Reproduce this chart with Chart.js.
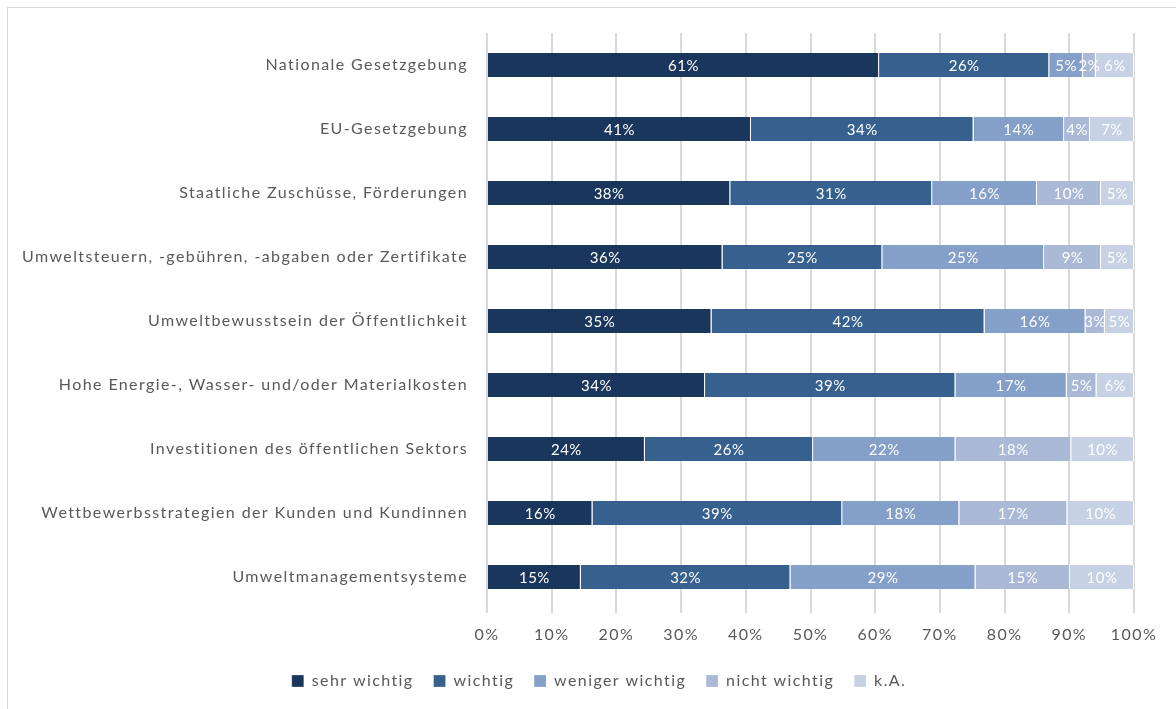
<!DOCTYPE html>
<html>
<head>
<meta charset="utf-8">
<script src="https://cdn.jsdelivr.net/npm/chart.js@4/dist/chart.umd.min.js"></script>
<style>
  html, body { margin: 0; padding: 0; background: #fff; }
  #wrap { position: absolute; left: 0; top: 0; width: 1176px; height: 709px; }
  #frame { position: absolute; left: 7px; top: 7px; width: 1180px; height: 720px; border: 1px solid #d9d9d9; box-sizing: border-box; }
</style>
</head>
<body>
<div id="wrap">
  <div id="frame"></div>
  <canvas id="bildChart" width="1176" height="709"></canvas>
</div>
<script>
// Kategorien (Einflussfaktoren)
var kategorien = [
  "Nationale Gesetzgebung",
  "EU-Gesetzgebung",
  "Staatliche Zuschüsse, Förderungen",
  "Umweltsteuern, -gebühren, -abgaben oder Zertifikate",
  "Umweltbewusstsein der Öffentlichkeit",
  "Hohe Energie-, Wasser- und/oder Materialkosten",
  "Investitionen des öffentlichen Sektors",
  "Wettbewerbsstrategien der Kunden und Kundinnen",
  "Umweltmanagementsysteme"
];

// Anteile in Prozent je Antwort
var sehrWichtig    = [60.6, 40.8, 37.6, 36.4, 34.7, 33.7, 24.4, 16.3, 14.5];
var wichtig        = [26.3, 34.4, 31.2, 24.7, 42.2, 38.7, 26.0, 38.6, 32.4];
var wenigerWichtig = [5.2, 14.0, 16.2, 25.0, 15.6, 17.2, 22.0, 18.1, 28.6];
var nichtWichtig   = [2.0, 4.0, 9.9, 8.8, 3.0, 4.6, 17.9, 16.7, 14.6];
var keineAngabe    = [5.9, 6.8, 5.1, 5.1, 4.5, 5.8, 9.7, 10.3, 9.9];

var serienNamen = ["sehr wichtig", "wichtig", "weniger wichtig", "nicht wichtig", "k.A."];
var serienFarben = ['#1a365d', '#36618f', '#84a0c9', '#a9b9d6', '#c6d1e4'];
var xTicks = [0, 10, 20, 30, 40, 50, 60, 70, 80, 90, 100];

var schrift = "Lato, 'Open Sans', sans-serif";
var grau = '#595959';

var alleSerien = [sehrWichtig, wichtig, wenigerWichtig, nichtWichtig, keineAngabe];
var datasets = alleSerien.map(function (werte, i) {
  return {
    label: serienNamen[i],
    data: werte,
    backgroundColor: serienFarben[i],
    borderColor: '#ffffff',
    borderWidth: { left: 0, right: 1, top: 0, bottom: 0 },
    borderSkipped: false,
    barPercentage: 0.75,
    categoryPercentage: 0.5
  };
});

// etwas Sperrung wie im Original (Calibri wirkt breiter)
var sperrung = {
  id: 'sperrung',
  beforeUpdate: function (chart) { chart.ctx.letterSpacing = '1.4px'; },
  beforeDraw: function (chart) { chart.ctx.letterSpacing = '1.4px'; },
  // Legende etwas nach rechts, mittig unter der Zeichenfläche
  afterLayout: function (chart) {
    chart.legend.left += 32;
    chart.legend.right += 32;
  }
};

// Beschriftung in den Balken
var wertLabels = {
  id: 'wertLabels',
  afterDatasetsDraw: function (chart) {
    var ctx = chart.ctx;
    ctx.save();
    ctx.letterSpacing = '0.5px';
    ctx.font = '15px ' + schrift;
    ctx.fillStyle = '#ffffff';
    ctx.textAlign = 'center';
    ctx.textBaseline = 'middle';
    chart.data.datasets.forEach(function (ds, i) {
      chart.getDatasetMeta(i).data.forEach(function (bar, j) {
        var p = bar.getProps(['x', 'y', 'base'], true);
        ctx.fillText(Math.round(ds.data[j]) + '%', (p.x + p.base) / 2, p.y + 1);
      });
    });
    ctx.restore();
  }
};

var chart = new Chart(document.getElementById('bildChart'), {
  type: 'bar',
  data: { labels: kategorien, datasets: datasets },
  plugins: [sperrung, wertLabels],
  options: {
    indexAxis: 'y',
    responsive: false,
    animation: false,
    layout: { padding: { top: 33, right: 42, left: 0, bottom: 10 } },
    plugins: {
      tooltip: { enabled: false },
      legend: {
        position: 'bottom',
        labels: {
          color: grau,
          font: { family: schrift, size: 16 },
          boxWidth: 12,
          boxHeight: 12,
          padding: 20
        }
      }
    },
    scales: {
      x: {
        stacked: true,
        min: 0,
        max: 100,
        afterBuildTicks: function (s) { s.ticks = xTicks.map(function (v) { return { value: v }; }); },
        afterFit: function (s) { s.height = 44; },
        ticks: {
          color: grau,
          font: { family: schrift, size: 16 },
          padding: 12,
          callback: function (v) { return v + '%'; }
        },
        grid: { color: '#d9d9d9', lineWidth: 2, drawTicks: true, tickLength: 4 },
        border: { display: false }
      },
      y: {
        stacked: true,
        afterFit: function (s) { s.width = 487; },
        ticks: {
          color: grau,
          font: { family: schrift, size: 16 },
          padding: 11
        },
        grid: { display: false },
        border: { display: false }
      }
    }
  }
});
</script>
</body>
</html>
